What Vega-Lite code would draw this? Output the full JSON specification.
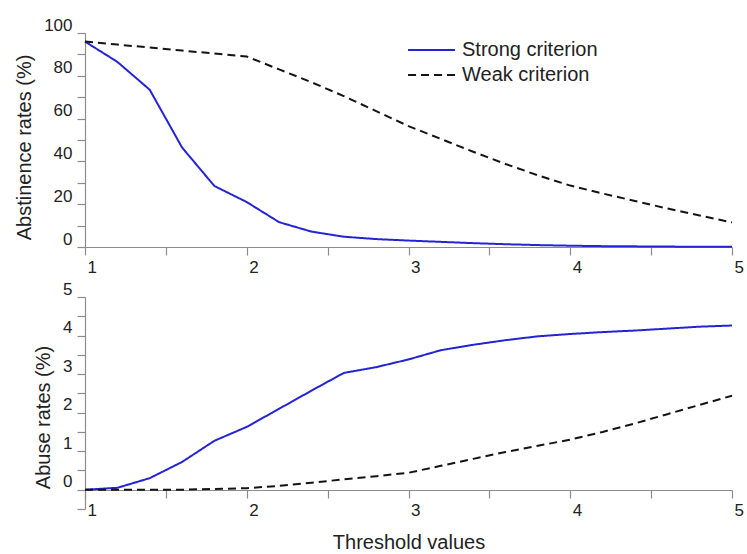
{
  "$schema": "https://vega.github.io/schema/vega-lite/v6.json",
  "background": "white",
  "padding": {"left": 14, "top": 16, "right": 2, "bottom": 4},
  "spacing": 50,
  "bounds": "flush",
  "config": {
    "view": {"stroke": null},
    "font": "Liberation Sans",
    "axis": {
      "grid": false,
      "domainColor": "#8c8c8c",
      "tickColor": "#8c8c8c",
      "domainWidth": 1.2,
      "tickWidth": 1.2,
      "tickSize": 8,
      "labelFont": "Liberation Sans",
      "titleFont": "Liberation Sans",
      "labelFontSize": 17,
      "titleFontSize": 20,
      "titleFontWeight": "normal",
      "labelColor": "#222222",
      "titleColor": "#222222",
      "labelFlush": false,
      "labelOverlap": false
    }
  },
  "datasets": {
    "abstinence": [
      {"threshold": 1.0, "criterion": "Strong criterion", "rate": 96},
      {"threshold": 1.2, "criterion": "Strong criterion", "rate": 86.5},
      {"threshold": 1.4, "criterion": "Strong criterion", "rate": 73.5},
      {"threshold": 1.6, "criterion": "Strong criterion", "rate": 46.5},
      {"threshold": 1.8, "criterion": "Strong criterion", "rate": 28.5},
      {"threshold": 2.0, "criterion": "Strong criterion", "rate": 21},
      {"threshold": 2.2, "criterion": "Strong criterion", "rate": 11.6},
      {"threshold": 2.4, "criterion": "Strong criterion", "rate": 7.2},
      {"threshold": 2.6, "criterion": "Strong criterion", "rate": 4.8},
      {"threshold": 2.8, "criterion": "Strong criterion", "rate": 3.7},
      {"threshold": 3.0, "criterion": "Strong criterion", "rate": 3.0},
      {"threshold": 3.2, "criterion": "Strong criterion", "rate": 2.4},
      {"threshold": 3.4, "criterion": "Strong criterion", "rate": 1.8},
      {"threshold": 3.6, "criterion": "Strong criterion", "rate": 1.3},
      {"threshold": 3.8, "criterion": "Strong criterion", "rate": 0.9},
      {"threshold": 4.0, "criterion": "Strong criterion", "rate": 0.6},
      {"threshold": 4.2, "criterion": "Strong criterion", "rate": 0.4},
      {"threshold": 4.4, "criterion": "Strong criterion", "rate": 0.3},
      {"threshold": 4.6, "criterion": "Strong criterion", "rate": 0.2},
      {"threshold": 4.8, "criterion": "Strong criterion", "rate": 0.1},
      {"threshold": 5.0, "criterion": "Strong criterion", "rate": 0.1},
      {"threshold": 1.0, "criterion": "Weak criterion", "rate": 96},
      {"threshold": 1.2, "criterion": "Weak criterion", "rate": 94.6},
      {"threshold": 1.4, "criterion": "Weak criterion", "rate": 93.2},
      {"threshold": 1.6, "criterion": "Weak criterion", "rate": 91.8},
      {"threshold": 1.8, "criterion": "Weak criterion", "rate": 90.4},
      {"threshold": 2.0, "criterion": "Weak criterion", "rate": 89},
      {"threshold": 2.2, "criterion": "Weak criterion", "rate": 83},
      {"threshold": 2.4, "criterion": "Weak criterion", "rate": 77},
      {"threshold": 2.6, "criterion": "Weak criterion", "rate": 70.5},
      {"threshold": 2.8, "criterion": "Weak criterion", "rate": 63.5},
      {"threshold": 3.0, "criterion": "Weak criterion", "rate": 56.5},
      {"threshold": 3.2, "criterion": "Weak criterion", "rate": 50.5},
      {"threshold": 3.4, "criterion": "Weak criterion", "rate": 44.5},
      {"threshold": 3.6, "criterion": "Weak criterion", "rate": 38.8},
      {"threshold": 3.8, "criterion": "Weak criterion", "rate": 33.5},
      {"threshold": 4.0, "criterion": "Weak criterion", "rate": 28.7},
      {"threshold": 4.2, "criterion": "Weak criterion", "rate": 25},
      {"threshold": 4.4, "criterion": "Weak criterion", "rate": 21.5},
      {"threshold": 4.6, "criterion": "Weak criterion", "rate": 18},
      {"threshold": 4.8, "criterion": "Weak criterion", "rate": 14.7},
      {"threshold": 5.0, "criterion": "Weak criterion", "rate": 11.5}
    ],
    "abuse": [
      {"threshold": 1.0, "criterion": "Strong criterion", "rate": 0},
      {"threshold": 1.2, "criterion": "Strong criterion", "rate": 0.05},
      {"threshold": 1.4, "criterion": "Strong criterion", "rate": 0.3},
      {"threshold": 1.6, "criterion": "Strong criterion", "rate": 0.72},
      {"threshold": 1.8, "criterion": "Strong criterion", "rate": 1.27},
      {"threshold": 2.0, "criterion": "Strong criterion", "rate": 1.63},
      {"threshold": 2.2, "criterion": "Strong criterion", "rate": 2.1},
      {"threshold": 2.4, "criterion": "Strong criterion", "rate": 2.57},
      {"threshold": 2.6, "criterion": "Strong criterion", "rate": 3.03},
      {"threshold": 2.8, "criterion": "Strong criterion", "rate": 3.18},
      {"threshold": 3.0, "criterion": "Strong criterion", "rate": 3.38},
      {"threshold": 3.2, "criterion": "Strong criterion", "rate": 3.62},
      {"threshold": 3.4, "criterion": "Strong criterion", "rate": 3.76},
      {"threshold": 3.6, "criterion": "Strong criterion", "rate": 3.88},
      {"threshold": 3.8, "criterion": "Strong criterion", "rate": 3.98},
      {"threshold": 4.0, "criterion": "Strong criterion", "rate": 4.04},
      {"threshold": 4.2, "criterion": "Strong criterion", "rate": 4.09},
      {"threshold": 4.4, "criterion": "Strong criterion", "rate": 4.13},
      {"threshold": 4.6, "criterion": "Strong criterion", "rate": 4.18},
      {"threshold": 4.8, "criterion": "Strong criterion", "rate": 4.23},
      {"threshold": 5.0, "criterion": "Strong criterion", "rate": 4.26},
      {"threshold": 1.0, "criterion": "Weak criterion", "rate": 0},
      {"threshold": 1.2, "criterion": "Weak criterion", "rate": 0},
      {"threshold": 1.4, "criterion": "Weak criterion", "rate": 0},
      {"threshold": 1.6, "criterion": "Weak criterion", "rate": 0},
      {"threshold": 1.8, "criterion": "Weak criterion", "rate": 0.02},
      {"threshold": 2.0, "criterion": "Weak criterion", "rate": 0.04},
      {"threshold": 2.2, "criterion": "Weak criterion", "rate": 0.1},
      {"threshold": 2.4, "criterion": "Weak criterion", "rate": 0.18},
      {"threshold": 2.6, "criterion": "Weak criterion", "rate": 0.27},
      {"threshold": 2.8, "criterion": "Weak criterion", "rate": 0.35},
      {"threshold": 3.0, "criterion": "Weak criterion", "rate": 0.44},
      {"threshold": 3.2, "criterion": "Weak criterion", "rate": 0.62},
      {"threshold": 3.4, "criterion": "Weak criterion", "rate": 0.8},
      {"threshold": 3.6, "criterion": "Weak criterion", "rate": 0.98},
      {"threshold": 3.8, "criterion": "Weak criterion", "rate": 1.14},
      {"threshold": 4.0, "criterion": "Weak criterion", "rate": 1.3},
      {"threshold": 4.2, "criterion": "Weak criterion", "rate": 1.5},
      {"threshold": 4.4, "criterion": "Weak criterion", "rate": 1.72},
      {"threshold": 4.6, "criterion": "Weak criterion", "rate": 1.96},
      {"threshold": 4.8, "criterion": "Weak criterion", "rate": 2.2},
      {"threshold": 5.0, "criterion": "Weak criterion", "rate": 2.44}
    ]
  },
  "vconcat": [
    {
      "width": 647,
      "height": 214,
      "data": {"name": "abstinence"},
      "mark": {"type": "line", "strokeWidth": 2},
      "encoding": {
        "x": {
          "field": "threshold", "type": "quantitative",
          "scale": {"domain": [1, 5], "nice": false, "zero": false},
          "axis": {
            "title": null,
            "values": [1, 1.5, 2, 2.5, 3, 3.5, 4, 4.5, 5],
            "labelExpr": "datum.value % 1 === 0 ? format(datum.value, 'd') : ''",
            "labelAlign": "left", "labelOffset": 2, "labelPadding": 4
          }
        },
        "y": {
          "field": "rate", "type": "quantitative",
          "scale": {"domain": [0, 100], "nice": false},
          "axis": {
            "title": "Abstinence rates (%)",
            "values": [0, 10, 20, 30, 40, 50, 60, 70, 80, 90, 100],
            "labelExpr": "datum.value % 20 === 0 ? format(datum.value, 'd') : ''",
            "labelOffset": -8, "labelPadding": 5, "titlePadding": 9, "titleY": 114
          }
        },
        "color": {
          "field": "criterion", "type": "nominal",
          "scale": {"domain": ["Strong criterion", "Weak criterion"], "range": ["#2424d4", "#141414"]},
          "legend": {
            "title": null, "orient": "none", "legendX": 322, "legendY": 7,
            "symbolType": "stroke", "symbolSize": 2200, "symbolStrokeWidth": 2,
            "labelFontSize": 20, "labelFont": "Liberation Sans", "labelColor": "#222222",
            "labelOffset": 6, "rowPadding": 5, "clipHeight": 20
          }
        },
        "strokeDash": {
          "field": "criterion", "type": "nominal",
          "scale": {"domain": ["Strong criterion", "Weak criterion"], "range": [[1, 0], [8, 5]]},
          "legend": {
            "title": null, "orient": "none", "legendX": 322, "legendY": 7,
            "symbolType": "stroke", "symbolSize": 2200, "symbolStrokeWidth": 2,
            "labelFontSize": 20, "labelFont": "Liberation Sans", "labelColor": "#222222",
            "labelOffset": 6, "rowPadding": 5, "clipHeight": 20
          }
        }
      }
    },
    {
      "width": 647,
      "height": 212,
      "data": {"name": "abuse"},
      "mark": {"type": "line", "strokeWidth": 2},
      "encoding": {
        "x": {
          "field": "threshold", "type": "quantitative",
          "scale": {"domain": [1, 5], "nice": false, "zero": false},
          "axis": {
            "title": "Threshold values",
            "values": [1, 1.5, 2, 2.5, 3, 3.5, 4, 4.5, 5],
            "labelExpr": "datum.value % 1 === 0 ? format(datum.value, 'd') : ''",
            "labelAlign": "left", "labelOffset": 2, "labelPadding": 4,
            "offset": -19, "titlePadding": 14
          }
        },
        "y": {
          "field": "rate", "type": "quantitative",
          "scale": {"domain": [-0.5, 5], "nice": false, "zero": false},
          "axis": {
            "title": "Abuse rates (%)",
            "values": [-0.5, 0, 0.5, 1, 1.5, 2, 2.5, 3, 3.5, 4, 4.5, 5],
            "labelExpr": "datum.value >= 0 && datum.value % 1 === 0 ? format(datum.value, 'd') : ''",
            "labelOffset": -8, "labelPadding": 5, "titlePadding": 9, "titleY": 120
          }
        },
        "color": {"field": "criterion", "type": "nominal", "legend": null},
        "strokeDash": {"field": "criterion", "type": "nominal", "legend": null}
      }
    }
  ]
}
